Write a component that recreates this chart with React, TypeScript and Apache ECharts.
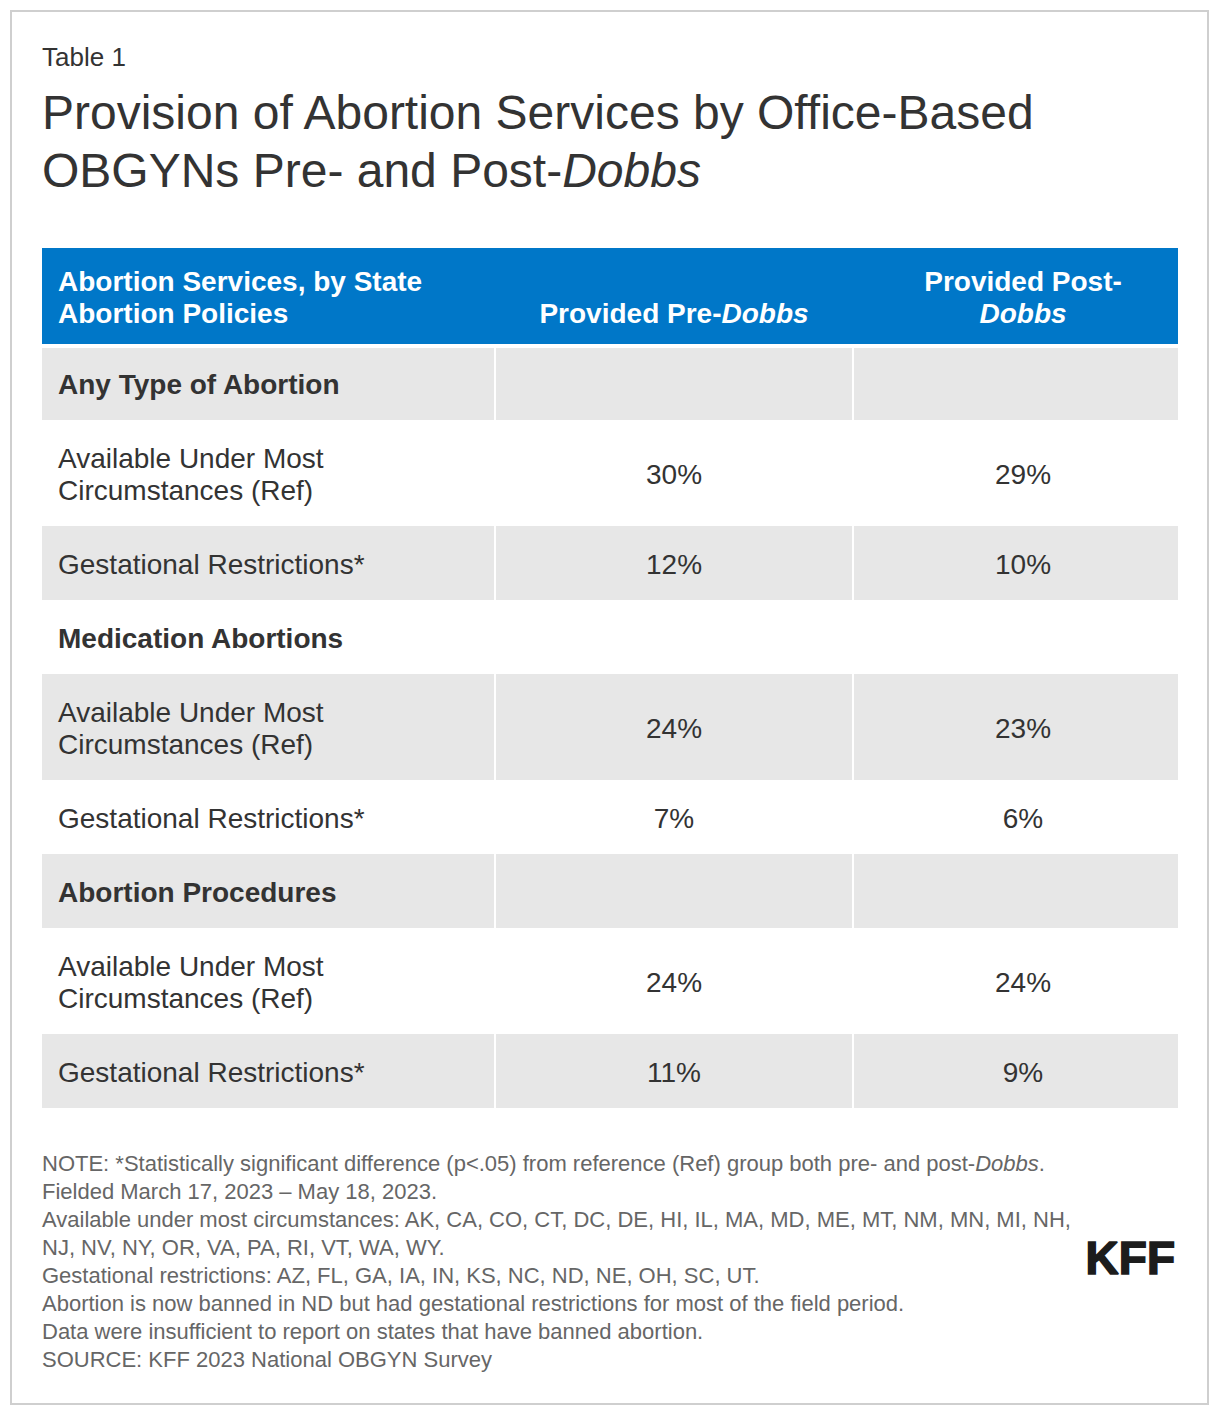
import React, { useEffect, useRef } from "react";
import * as echarts from "echarts";

// ---------- content ----------
const tableLabel = "Table 1";
const titleLines = [
  "Provision of Abortion Services by Office-Based",
  "OBGYNs Pre- and Post-{i|Dobbs}",
];
const headerCol1 = "Abortion Services, by State\nAbortion Policies";
const headerCol2 = "Provided Pre-{i|Dobbs}";
const headerCol3 = "Provided Post-\n{i|Dobbs}";
const sectionNames = ["Any Type of Abortion", "Medication Abortions", "Abortion Procedures"];
const policyNames = ["Available Under Most\nCircumstances (Ref)", "Gestational Restrictions*"];
const preDobbs = [30, 12, 24, 7, 24, 11];
const postDobbs = [29, 10, 23, 6, 24, 9];
const noteLines = [
  "NOTE: *Statistically significant difference (p<.05) from reference (Ref) group both pre- and post-{i|Dobbs}.",
  "Fielded March 17, 2023 \u2013 May 18, 2023.",
  "Available under most circumstances: AK, CA, CO, CT, DC, DE, HI, IL, MA, MD, ME, MT, NM, MN, MI, NH,",
  "NJ, NV, NY, OR, VA, PA, RI, VT, WA, WY.",
  "Gestational restrictions: AZ, FL, GA, IA, IN, KS, NC, ND, NE, OH, SC, UT.",
  "Abortion is now banned in ND but had gestational restrictions for most of the field period.",
  "Data were insufficient to report on states that have banned abortion.",
  "SOURCE: KFF 2023 National OBGYN Survey",
];
const logoText = "KFF";

// ---------- layout / style ----------
const W = 1220;
const H = 1416;
const FONT = '"Liberation Sans", Arial, Helvetica, sans-serif';
const TEXT = "#333333";
const NOTE = "#666666";
const BLUE = "#0077c8";
const GRAY = "#e7e7e7";
const colX = [42, 496, 854];
const colW = [452, 356, 324];
const colTextX = [58, 674, 1023];
const headerTop = 248;
const headerH = 96;
const bodyTop = 346;
const rowSingle = 74;
const rowDouble = 106;

function richItalic(size: number, weight: string, fill: string, lh: number) {
  return {
    i: {
      fontStyle: "italic",
      fontWeight: weight,
      fontSize: size,
      fontFamily: FONT,
      fill,
      lineHeight: lh,
    },
  };
}

function txt(
  x: number,
  y: number,
  text: string,
  o: { size: number; weight?: string; fill: string; align?: string; vAlign?: string; lh?: number; rich?: boolean; stroke?: number }
) {
  const lh = o.lh ?? Math.round(o.size * 1.15);
  const style: any = {
    text,
    fontSize: o.size,
    fontFamily: FONT,
    fontWeight: o.weight ?? "normal",
    fill: o.fill,
    align: o.align ?? "left",
    verticalAlign: o.vAlign ?? "middle",
    lineHeight: lh,
  };
  if (o.stroke) {
    style.stroke = o.fill;
    style.lineWidth = o.stroke;
  }
  if (o.rich) style.rich = richItalic(o.size, o.weight ?? "normal", o.fill, lh);
  return { type: "text", x, y, silent: true, style };
}

export default function App() {
  const ref = useRef<HTMLDivElement>(null);
  useEffect(() => {
    const chart = echarts.init(ref.current!, null, { renderer: "svg" });
    const els: any[] = [];

    // outer frame
    els.push({
      type: "rect",
      shape: { x: 11, y: 11, width: 1197, height: 1393 },
      style: { fill: "#fff", stroke: "#cfcfcf", lineWidth: 2 },
    });

    // headings
    els.push(txt(42, 57, tableLabel, { size: 26, fill: TEXT }));
    titleLines.forEach((t, i) =>
      els.push(txt(42, 112 + i * 58, t, { size: 48, fill: TEXT, rich: true }))
    );

    // table header
    els.push({
      type: "rect",
      shape: { x: colX[0], y: headerTop, width: colX[2] + colW[2] - colX[0], height: headerH },
      style: { fill: BLUE },
    });
    const hb = headerTop + headerH - 15;
    els.push(txt(colTextX[0], hb, headerCol1, { size: 28, weight: "bold", fill: "#fff", vAlign: "bottom", lh: 32 }));
    els.push(txt(colTextX[1], hb, headerCol2, { size: 28, weight: "bold", fill: "#fff", align: "center", vAlign: "bottom", lh: 32, rich: true }));
    els.push(txt(colTextX[2], hb, headerCol3, { size: 28, weight: "bold", fill: "#fff", align: "center", vAlign: "bottom", lh: 32, rich: true }));

    // body rows
    type Row = { label: string; section: boolean; pre?: number; post?: number };
    const rows: Row[] = [];
    sectionNames.forEach((s, si) => {
      rows.push({ label: s, section: true });
      policyNames.forEach((p, pi) =>
        rows.push({ label: p, section: false, pre: preDobbs[si * 2 + pi], post: postDobbs[si * 2 + pi] })
      );
    });

    let y = bodyTop;
    rows.forEach((r, i) => {
      const h = r.label.includes("\n") ? rowDouble : rowSingle;
      if (i % 2 === 0) {
        const top = i === 0 ? y + 2 : y;
        const hh = y + h - top;
        colX.forEach((cx, c) =>
          els.push({
            type: "rect",
            shape: { x: cx, y: top, width: c < 2 ? colX[c + 1] - cx - 2 : colW[c], height: hh },
            style: { fill: GRAY },
          })
        );
      }
      const cy = y + h / 2 + 1;
      els.push(txt(colTextX[0], cy, r.label, { size: 28, weight: r.section ? "bold" : "normal", fill: TEXT, lh: 32 }));
      if (!r.section) {
        els.push(txt(colTextX[1], cy, `${r.pre}%`, { size: 28, fill: TEXT, align: "center" }));
        els.push(txt(colTextX[2], cy, `${r.post}%`, { size: 28, fill: TEXT, align: "center" }));
      }
      y += h;
    });

    // notes
    noteLines.forEach((t, i) =>
      els.push(txt(42, 1163 + i * 28.1, t, { size: 22, fill: NOTE, rich: true }))
    );

    // logo
    els.push(txt(1175, 1258, logoText, { size: 46, weight: "bold", fill: "#1c1c1c", align: "right", stroke: 1.6 }));

    chart.setOption({ animation: false, graphic: { elements: els } });
    return () => chart.dispose();
  }, []);
  return (
    <div
      ref={ref}
      style={{ position: "absolute", left: 0, top: 0, width: W, height: H, background: "#fff" }}
    />
  );
}
